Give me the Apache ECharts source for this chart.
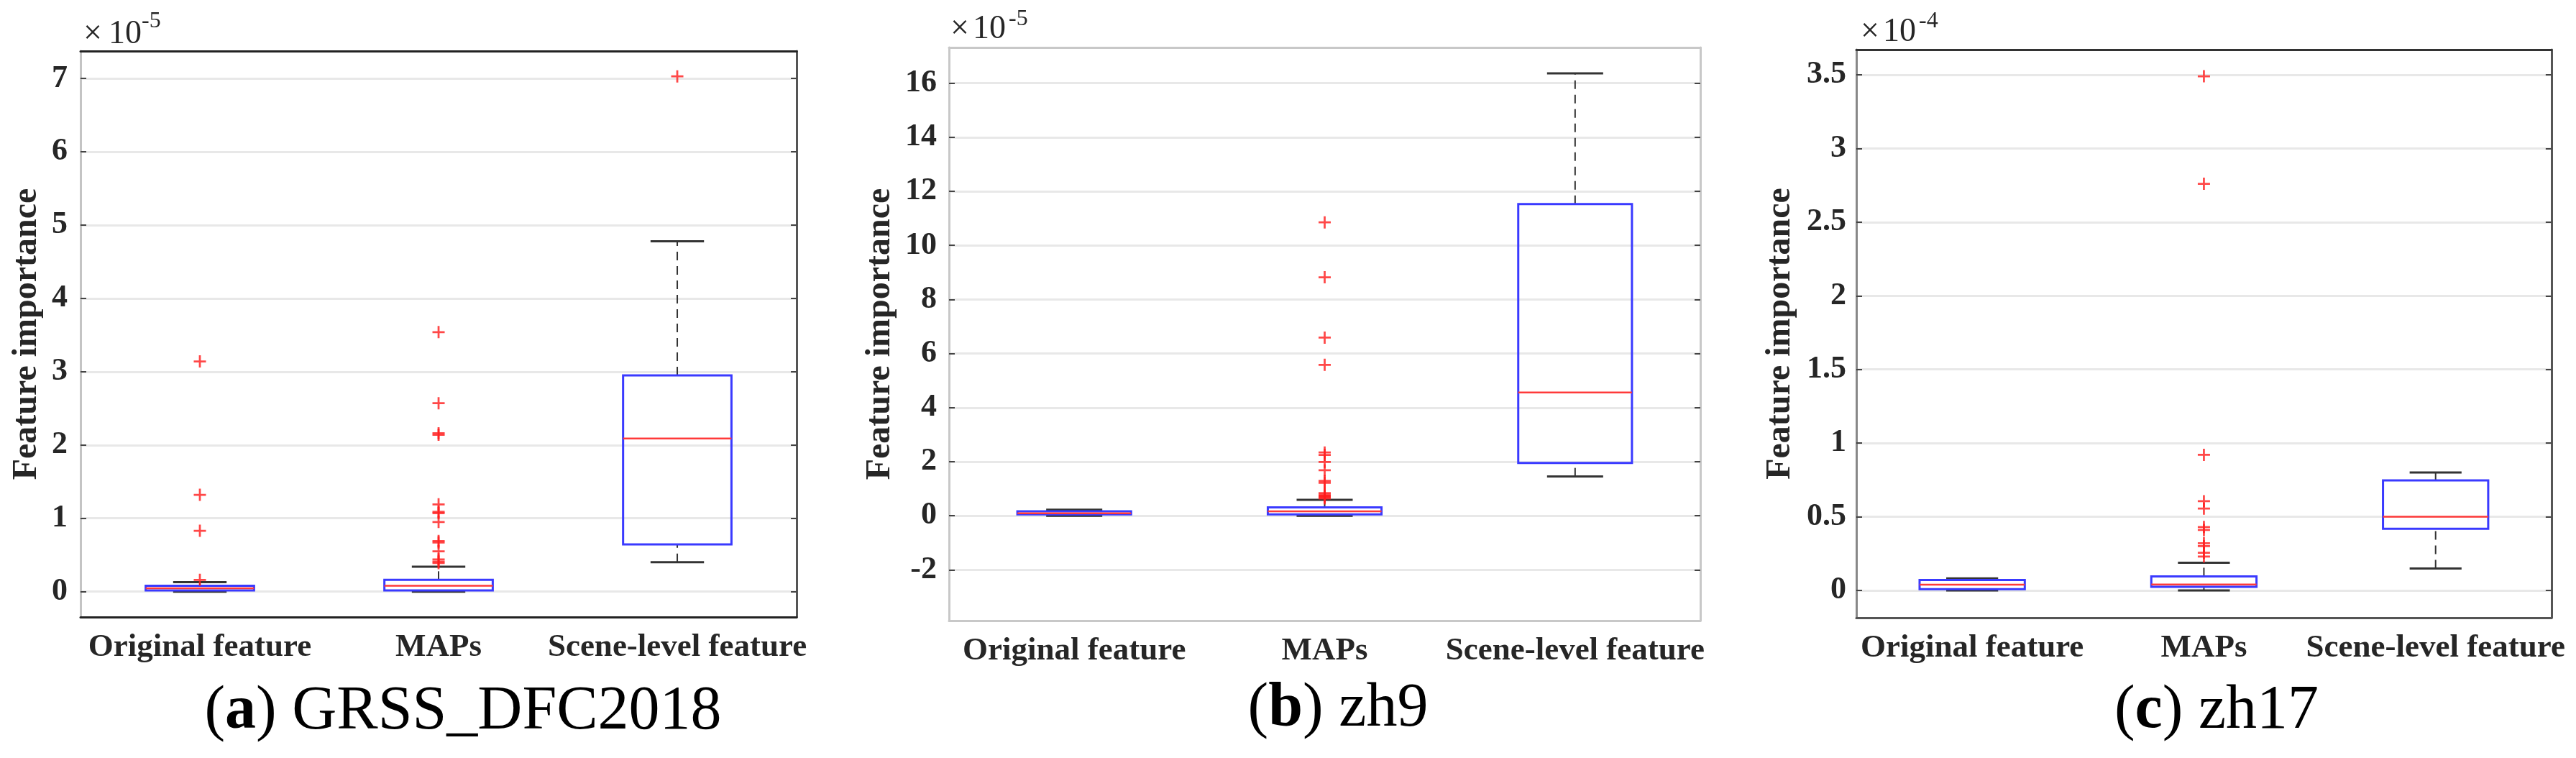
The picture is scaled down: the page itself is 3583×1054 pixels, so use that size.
<!DOCTYPE html>
<html><head><meta charset="utf-8">
<script src="https://cdn.jsdelivr.net/npm/echarts@6/dist/echarts.min.js"></script>
<style>
html,body{margin:0;padding:0;background:#fff;}
#wrap{position:relative;width:3583px;height:1054px;overflow:hidden;background:#fff;}
.panel{position:absolute;top:0;height:1054px;overflow:hidden;}
</style></head><body>
<div id="wrap">
<div id="pa" class="panel" style="left:0;width:1123px"></div>
<div id="pb" class="panel" style="left:1123px;width:1260px"></div>
<div id="pc" class="panel" style="left:2383px;width:1185px"></div>
</div>
<script>
const categories = ['Original feature', 'MAPs', 'Scene-level feature'];

// (a) GRSS_DFC2018, values x1e-5 ; each box: [min, q1, median, q3, max]
const boxA = [[0, 0.016, 0.045, 0.08, 0.13], [0, 0.016, 0.08, 0.16, 0.34], [0.40, 0.645, 2.09, 2.95, 4.78]];
const outA_orig = [0.16, 0.83, 1.32, 3.14];
const outA_maps = [0.39, 0.41, 0.44, 0.55, 0.67, 0.69, 0.95, 1.07, 1.09, 1.19, 2.14, 2.16, 2.57, 3.54];
const outA_scene = [7.03];
const ticksA = [0, 1, 2, 3, 4, 5, 6, 7];

// (b) zh9, values x1e-5
const boxB = [[0, 0.05, 0.09, 0.16, 0.22], [0, 0.05, 0.16, 0.31, 0.59], [1.45, 1.95, 4.56, 11.53, 16.36]];
const outB_orig = [];
const outB_maps = [0.64, 0.68, 0.71, 0.74, 0.78, 0.84, 1.22, 1.29, 1.68, 1.99, 2.25, 2.34, 5.58, 6.59, 8.82, 10.85];
const outB_scene = [];
const ticksB = [-2, 0, 2, 4, 6, 8, 10, 12, 14, 16];

// (c) zh17, values x1e-4
const boxC = [[0, 0.008, 0.039, 0.07, 0.081], [0, 0.024, 0.04, 0.095, 0.187], [0.148, 0.418, 0.50, 0.746, 0.80]];
const outC_orig = [];
const outC_maps = [0.23, 0.255, 0.30, 0.32, 0.41, 0.43, 0.555, 0.605, 0.92, 2.76, 3.49];
const outC_scene = [];
const ticksC = [0, 0.5, 1, 1.5, 2, 2.5, 3, 3.5];

const FONT = 'Liberation Serif';
const PLUS = 'path://M6.7,0H9.3V6.7H16V9.3H9.3V16H6.7V9.3H0V6.7H6.7Z';

function makeOption(cfg) {
  const boxData = cfg.box.map((b, i) => [i].concat(b));
  const outData = [];
  cfg.outliers.forEach((arr, i) => arr.forEach(v => outData.push([i, v])));
  const tickStyle = {color: '#444', width: 2};
  return {
    animation: false,
    textStyle: {fontFamily: FONT},
    grid: {left: cfg.grid[0], top: cfg.grid[1], width: cfg.grid[2], height: cfg.grid[3]},
    xAxis: [
      {type: 'category', data: categories, position: 'bottom', boundaryGap: true,
       axisLine: {onZero: false, lineStyle: {color: cfg.colBottom, width: 3}},
       axisTick: {inside: true, alignWithLabel: true, length: 9, lineStyle: tickStyle},
       axisLabel: {interval: 0, margin: 20, fontFamily: FONT, fontWeight: 'bold', fontSize: 45, color: '#262626'},
       splitLine: {show: false}},
      {type: 'category', data: categories, position: 'top', boundaryGap: true,
       axisLine: {onZero: false, lineStyle: {color: cfg.colTop, width: 3}},
       axisTick: {inside: true, alignWithLabel: true, length: 9, lineStyle: tickStyle},
       axisLabel: {show: false}, splitLine: {show: false}}
    ],
    yAxis: [
      {type: 'value', min: cfg.min, max: cfg.max, position: 'left',
       name: 'Feature importance', nameLocation: 'middle', nameRotate: 90, nameGap: cfg.nameGap,
       nameTextStyle: {fontFamily: FONT, fontWeight: 'bold', fontSize: 48, color: '#262626'},
       axisLine: {show: true, onZero: false, lineStyle: {color: cfg.colLeft, width: 3}},
       axisTick: {show: true, inside: true, length: 8, customValues: cfg.ticks, lineStyle: tickStyle},
       axisLabel: {customValues: cfg.ticks, margin: cfg.labelMargin, fontFamily: FONT, fontWeight: 'bold',
                   fontSize: 44, color: '#262626', formatter: v => String(v)},
       splitLine: {show: true, lineStyle: {color: '#e8e8e8', width: 3}}},
      {type: 'value', min: cfg.min, max: cfg.max, position: 'right',
       axisLine: {show: true, onZero: false, lineStyle: {color: cfg.colRight, width: 3}},
       axisTick: {show: true, inside: true, length: 8, customValues: cfg.ticks, lineStyle: tickStyle},
       axisLabel: {show: false}, splitLine: {show: false}}
    ],
    series: [
      {type: 'custom', xAxisIndex: 0, yAxisIndex: 0, data: boxData, encode: {x: 0, y: [1, 2, 3, 4, 5]}, z: 3,
       renderItem: function (params, api) {
         const i = api.value(0);
         const band = api.size([1, 0])[0];
         const cx = api.coord([i, 0])[0];
         const y = k => api.coord([i, api.value(k)])[1];
         const yMin = y(1), yQ1 = y(2), yMed = y(3), yQ3 = y(4), yMax = y(5);
         const hw = band * 0.227, cw = band * 0.112;
         const wStyle = {stroke: '#333', lineWidth: 2, lineDash: [12, 8], fill: null};
         const cStyle = {stroke: '#333', lineWidth: 3, fill: null};
         return {type: 'group', children: [
           {type: 'line', shape: {x1: cx, y1: yQ3, x2: cx, y2: yMax}, style: wStyle},
           {type: 'line', shape: {x1: cx, y1: yMin, x2: cx, y2: yQ1}, style: wStyle},
           {type: 'line', shape: {x1: cx - cw, y1: yMax, x2: cx + cw, y2: yMax}, style: cStyle},
           {type: 'line', shape: {x1: cx - cw, y1: yMin, x2: cx + cw, y2: yMin}, style: cStyle},
           {type: 'rect', shape: {x: cx - hw, y: yQ3, width: 2 * hw, height: Math.max(yQ1 - yQ3, 1)},
            style: {fill: null, stroke: '#3a3aff', lineWidth: 3}},
           {type: 'line', shape: {x1: cx - hw, y1: yMed, x2: cx + hw, y2: yMed},
            style: {stroke: '#ff3a3a', lineWidth: 2.5, fill: null}}
         ]};
       }},
      {type: 'scatter', xAxisIndex: 0, yAxisIndex: 0, data: outData, symbol: PLUS, symbolSize: 17,
       itemStyle: {color: '#ff1a1a'}, z: 5}
    ],
    graphic: [
      {type: 'text', x: cfg.title[0], y: cfg.title[1], z: 10,
       style: {text: '{n|(}{b|' + cfg.letter + '}{n|) ' + cfg.name + '}', align: 'center', verticalAlign: 'middle',
               rich: {n: {fontFamily: FONT, fontSize: 86, fill: '#000', fontWeight: 'normal'},
                      b: {fontFamily: FONT, fontSize: 86, fill: '#000', fontWeight: 'bold'}}}},
      {type: 'text', x: cfg.exp[0], y: cfg.exp[3], z: 10,
       style: {text: '\u00d7', fontFamily: FONT, fontSize: 46, fill: '#262626', align: 'left', verticalAlign: 'middle'}},
      {type: 'text', x: cfg.exp[1], y: cfg.exp[3], z: 10,
       style: {text: '10', fontFamily: FONT, fontSize: 46, fill: '#262626', align: 'left', verticalAlign: 'middle'}},
      {type: 'text', x: cfg.exp[2], y: cfg.exp[4], z: 10,
       style: {text: cfg.power, fontFamily: FONT, fontSize: 32, fill: '#262626', align: 'left', verticalAlign: 'middle'}}
    ]
  };
}

const cfgA = {box: boxA, outliers: [outA_orig, outA_maps, outA_scene], ticks: ticksA, min: -0.347, max: 7.375,
  grid: [112, 71, 1009, 787], nameGap: 48, labelMargin: 18,
  colTop: '#222', colBottom: '#222', colLeft: '#c4c4c4', colRight: '#555',
  title: [644, 990], letter: 'a', name: 'GRSS_DFC2018', exp: [116, 151, 197, 48, 30], power: '-5'};
const cfgB = {box: boxB, outliers: [outB_orig, outB_maps, outB_scene], ticks: ticksB, min: -3.88, max: 17.32,
  grid: [197, 66, 1045, 797], nameGap: 64, labelMargin: 17,
  colTop: '#c8c8c8', colBottom: '#c8c8c8', colLeft: '#c8c8c8', colRight: '#c8c8c8',
  title: [738, 986], letter: 'b', name: 'zh9', exp: [199, 230, 280, 41, 27], power: '-5'};
const cfgC = {box: boxC, outliers: [outC_orig, outC_maps, outC_scene], ticks: ticksC, min: -0.186, max: 3.671,
  grid: [199, 69, 984, 790], nameGap: 81, labelMargin: 14,
  colTop: '#333', colBottom: '#555', colLeft: '#888', colRight: '#555',
  title: [700, 989], letter: 'c', name: 'zh17', exp: [205, 236, 286, 45, 30], power: '-4'};

echarts.init(document.getElementById('pa'), null, {renderer: 'canvas'}).setOption(makeOption(cfgA));
echarts.init(document.getElementById('pb'), null, {renderer: 'canvas'}).setOption(makeOption(cfgB));
echarts.init(document.getElementById('pc'), null, {renderer: 'canvas'}).setOption(makeOption(cfgC));
</script>
</body></html>
